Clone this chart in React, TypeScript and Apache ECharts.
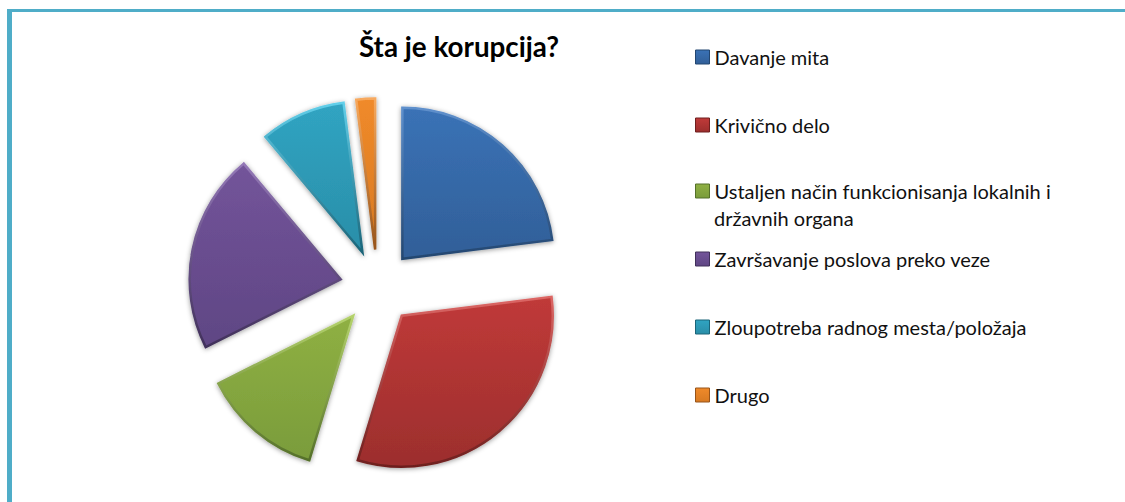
import React, { useEffect, useRef } from "react";
import * as echarts from "echarts";

const categories = [
  "Davanje mita",
  "Krivično delo",
  "Ustaljen način funkcionisanja lokalnih i državnih organa",
  "Završavanje poslova preko veze",
  "Zloupotreba radnog mesta/položaja",
  "Drugo",
];
const shares = [23, 31.7, 12.9, 21.3, 9.1, 2];
const fillTop = ["#3a72b6", "#c03a39", "#8fb043", "#73549a", "#30a4c2", "#f08a2a"];
const fillBottom = ["#315f98", "#9c2e2d", "#7a9c3b", "#5f4684", "#2a8ea8", "#d87a22"];
const edgeTop = ["#5f90cc", "#dc6664", "#b4d26c", "#9378b6", "#62cfea", "#f7a95e"];
const edgeBottom = ["#234670", "#6e1f1e", "#55702a", "#40305a", "#1b6478", "#97541a"];
const titleText = "Šta je korupcija?";
const wrappedLine = "državnih organa";
const legendRows = [47, 115, 181, 249, 317, 385];

const grad = (a: string, b: string) =>
  new echarts.graphic.LinearGradient(0, 0, 0, 1, [
    { offset: 0, color: a },
    { offset: 1, color: b },
  ]);

export default function App() {
  const ref = useRef<HTMLDivElement>(null);
  useEffect(() => {
    const chart = echarts.init(ref.current!, undefined, { renderer: "svg" });
    const font = "Lato, Carlito, sans-serif";
    chart.setOption({
      animation: false,
      backgroundColor: "#ffffff",
      title: {
        text: titleText,
        left: 454,
        textAlign: "center",
        top: 27,
        textStyle: { fontFamily: font, fontSize: 27.8, fontWeight: "bold", color: "#000000" },
      },
      legend: categories.map((name, i) => ({
        data: [name],
        orient: "vertical",
        left: 695,
        top: legendRows[i],
        padding: 0,
        icon: "rect",
        itemWidth: 14,
        itemHeight: 14,
        itemGap: 0,
        selectedMode: false,
        formatter: (n: string) => n.replace(" državnih organa", ""),
        textStyle: { fontFamily: font, fontSize: 20, color: "#111111" },
        itemStyle: { borderWidth: 1, borderColor: edgeBottom[i], color: grad(fillTop[i], fillBottom[i]) },
      })),
      graphic: [
        { type: "rect", shape: { x: 7, y: 9, width: 1118, height: 3 }, style: { fill: "#4fadc8" } },
        { type: "rect", shape: { x: 7, y: 9, width: 5, height: 493 }, style: { fill: "#4fadc8" } },
        {
          type: "text",
          x: 714,
          y: 218,
          style: { text: wrappedLine, font: `20px ${font}`, fill: "#111111", verticalAlign: "middle" },
        },
      ],
      series: [
        {
          type: "pie",
          center: [377.5, 287],
          radius: [0, 151],
          startAngle: 90,
          clockwise: true,
          selectedMode: "multiple",
          selectedOffset: 37.6,
          label: { show: false },
          labelLine: { show: false },
          emphasis: { disabled: true },
          data: categories.map((name, i) => ({
            name,
            value: shares[i],
            selected: true,
            itemStyle: {
              color: grad(fillTop[i], fillBottom[i]),
              borderColor: grad(edgeTop[i], edgeBottom[i]),
              borderWidth: 2.5,
              borderJoin: "miter",
              borderMiterLimit: 10,
              shadowBlur: 5,
              shadowColor: "rgba(0,0,0,0.4)",
              shadowOffsetX: 0,
              shadowOffsetY: 1,
            },
          })),
        },
      ],
    });
    return () => chart.dispose();
  }, []);
  return <div ref={ref} style={{ position: "fixed", left: 0, top: 0, width: 1125, height: 502 }} />;
}
